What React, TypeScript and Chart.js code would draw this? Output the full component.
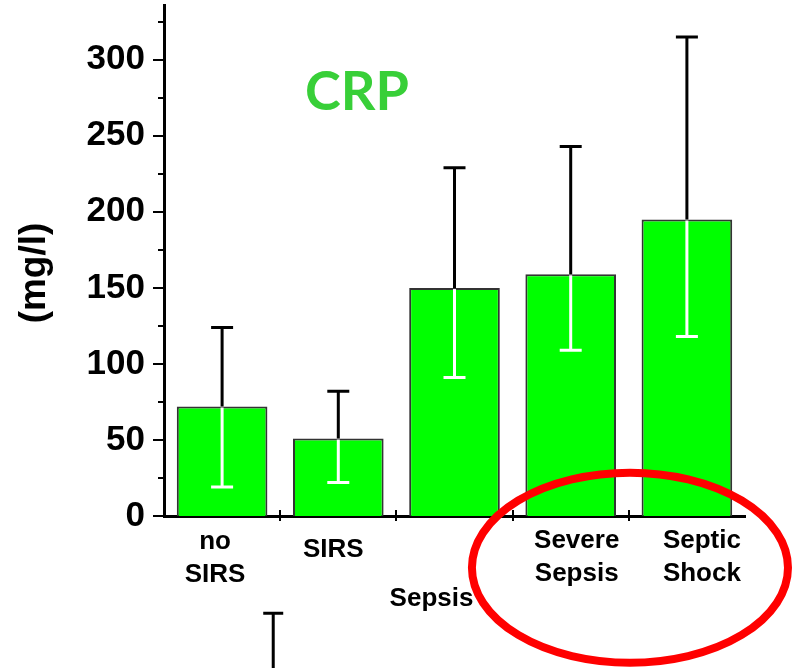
import React, { useEffect, useRef } from 'react';
import { Chart, registerables } from 'chart.js';

Chart.register(...registerables);

// ---- data ----
const categories: string[][] = [['no', 'SIRS'], ['SIRS'], ['Sepsis'], ['Severe', 'Sepsis'], ['Septic', 'Shock']];
const means = [72, 51, 150, 159, 195];
const errHigh = [124, 82, 229, 243, 315];
const errLow = [19, 22, 91, 109, 118];
const yMajorTicks = [0, 50, 100, 150, 200, 250, 300];
const yMinorTicks = [25, 75, 125, 175, 225, 275, 325];
const yMin = 0;
const yMax = 336;
const chartTitle = 'CRP';
const yAxisTitle = '(mg/l)';
// label placement (offset from category centre, first-line baseline below axis)
const labelDx = [-7, -5, -23, 6, 15];
const labelDy = [33, 41, 90, 32, 32];
// stray error-bar cap below the axis (category index, value)
const strayCap = { index: 0.44, value: -64 };
// red highlight ellipse (category index, value, radii in categories / value units)
const highlight = { index: 3.51, value: -34, rx: 1.36, ry: 62.5 };

const FONT = '"Liberation Sans", Arial, sans-serif';

const overlayPlugin = {
  id: 'overlay',
  afterDatasetsDraw(chart: any) {
    const { ctx, chartArea, scales } = chart;
    const xs = scales.x;
    const ys = scales.y;
    ctx.save();
    // error bars
    const cap = 11;
    means.forEach((m, i) => {
      const cx = xs.getPixelForValue(i);
      const yTop = ys.getPixelForValue(m);
      const yHi = ys.getPixelForValue(errHigh[i]);
      const yLo = ys.getPixelForValue(errLow[i]);
      ctx.lineWidth = 3;
      ctx.lineCap = 'butt';
      ctx.strokeStyle = '#000';
      ctx.beginPath();
      ctx.moveTo(cx, yTop);
      ctx.lineTo(cx, yHi);
      ctx.moveTo(cx - cap, yHi);
      ctx.lineTo(cx + cap, yHi);
      ctx.stroke();
      ctx.strokeStyle = '#fff';
      ctx.beginPath();
      ctx.moveTo(cx, yTop + 1);
      ctx.lineTo(cx, yLo);
      ctx.moveTo(cx - cap, yLo);
      ctx.lineTo(cx + cap, yLo);
      ctx.stroke();
    });
    ctx.restore();
  },
  afterDraw(chart: any) {
    const { ctx, chartArea, scales } = chart;
    const xs = scales.x;
    const ys = scales.y;
    ctx.save();
    ctx.strokeStyle = '#000';
    ctx.lineWidth = 2;
    // y ticks
    yMajorTicks.forEach((v) => {
      const y = Math.round(ys.getPixelForValue(v));
      ctx.beginPath();
      ctx.moveTo(chartArea.left - 11, y);
      ctx.lineTo(chartArea.left, y);
      ctx.stroke();
    });
    yMinorTicks.forEach((v) => {
      const y = Math.round(ys.getPixelForValue(v));
      ctx.beginPath();
      ctx.moveTo(chartArea.left - 6, y);
      ctx.lineTo(chartArea.left, y);
      ctx.stroke();
    });
    // x category boundary ticks
    for (let i = 1; i < categories.length; i++) {
      const x = Math.round((xs.getPixelForValue(i - 1) + xs.getPixelForValue(i)) / 2);
      ctx.beginPath();
      ctx.moveTo(x, chartArea.bottom - 6);
      ctx.lineTo(x, chartArea.bottom + 5);
      ctx.stroke();
    }
    // category labels
    ctx.fillStyle = '#000';
    ctx.font = `bold 26px ${FONT}`;
    ctx.textAlign = 'center';
    ctx.textBaseline = 'alphabetic';
    categories.forEach((lines, i) => {
      const cx = xs.getPixelForValue(i) + labelDx[i];
      lines.forEach((t, j) => {
        ctx.fillText(t, cx, chartArea.bottom + labelDy[i] + j * 33);
      });
    });
    // title
    ctx.fillStyle = '#38cf38';
    ctx.font = `bold 54px Lato, "Open Sans", sans-serif`;
    ctx.fillText(chartTitle, chartArea.left + 193, chartArea.top + 105);
    // y axis title
    ctx.save();
    ctx.translate(35, 273);
    ctx.rotate(-Math.PI / 2);
    ctx.fillStyle = '#000';
    ctx.font = `bold 37px ${FONT}`;
    ctx.textBaseline = 'middle';
    ctx.fillText(yAxisTitle, 0, 0);
    ctx.restore();
    // stray cap
    const sx = xs.getPixelForValue(strayCap.index);
    const sy = ys.getPixelForValue(strayCap.value);
    ctx.lineWidth = 3;
    ctx.beginPath();
    ctx.moveTo(sx - 10, sy);
    ctx.lineTo(sx + 10, sy);
    ctx.moveTo(sx, sy);
    ctx.lineTo(sx, chart.height + 5);
    ctx.stroke();
    // highlight ellipse
    const catW = xs.getPixelForValue(1) - xs.getPixelForValue(0);
    const ex = xs.getPixelForValue(highlight.index);
    const ey = ys.getPixelForValue(highlight.value);
    const ry = Math.abs(ys.getPixelForValue(0) - ys.getPixelForValue(highlight.ry));
    ctx.strokeStyle = '#f00';
    ctx.lineWidth = 8;
    ctx.beginPath();
    ctx.ellipse(ex, ey, highlight.rx * catW, ry, 0, 0, Math.PI * 2);
    ctx.stroke();
    ctx.restore();
  },
};

export default function App() {
  const ref = useRef<HTMLCanvasElement>(null);
  useEffect(() => {
    if (!ref.current) return;
    const chart = new Chart(ref.current, {
      type: 'bar',
      data: {
        labels: categories.map((c) => c.join(' ')),
        datasets: [
          {
            data: means,
            backgroundColor: '#00ff00',
            borderColor: '#333333',
            borderWidth: 2,
            barPercentage: 0.78,
            categoryPercentage: 1,
          },
        ],
      },
      options: {
        animation: false,
        responsive: false,
        events: [],
        layout: { padding: { top: 5, right: 47, left: 0, bottom: 0 } },
        plugins: { legend: { display: false }, tooltip: { enabled: false }, title: { display: false } },
        scales: {
          x: {
            type: 'category',
            offset: true,
            ticks: { display: false },
            grid: { display: false, drawTicks: false },
            border: { display: true, color: '#000', width: 3 },
            afterFit(scale: any) {
              scale.height = 152;
              scale.paddingLeft = 0;
              scale.paddingRight = 0;
              scale.paddingTop = 0;
              scale.paddingBottom = 0;
            },
          },
          y: {
            min: yMin,
            max: yMax,
            afterBuildTicks(scale: any) {
              scale.ticks = yMajorTicks.map((v) => ({ value: v }));
            },
            ticks: {
              color: '#000',
              padding: 19,
              font: { family: FONT, weight: 'bold', size: 35 },
              callback: (v: any) => String(v),
            },
            grid: { display: false, drawTicks: false },
            border: { display: true, color: '#000', width: 3 },
            afterFit(scale: any) {
              scale.width = 164;
              scale.paddingTop = 0;
              scale.paddingBottom = 0;
              scale.paddingLeft = 0;
              scale.paddingRight = 0;
            },
          },
        },
      },
      plugins: [overlayPlugin],
    } as any);
    return () => chart.destroy();
  }, []);
  return (
    <div style={{ position: 'absolute', left: 0, top: 0, width: 792, height: 668, background: '#fff' }}>
      <canvas ref={ref} width={792} height={668} style={{ display: 'block' }} />
    </div>
  );
}
